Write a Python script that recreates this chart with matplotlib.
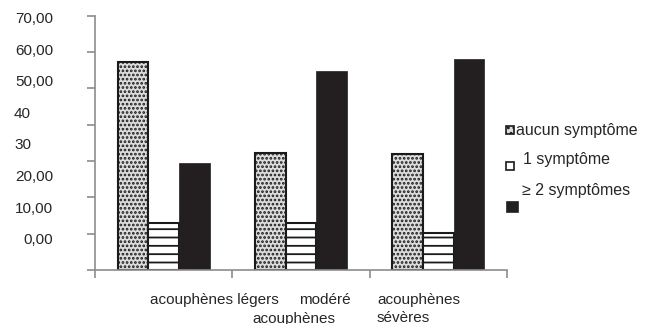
import numpy as np
import matplotlib
matplotlib.use('Agg')
import matplotlib.pyplot as plt
from matplotlib.patches import Rectangle

## tinnitus severity groups and share of patients (%) per symptom count
groups = ['acouphènes légers', 'modéré acouphènes', 'acouphènes sévères']
series = ['aucun symptôme', '1 symptôme', '≥ 2 symptômes']
aucun = [57.3, 32.1, 32.0]
un_symptome = [12.9, 13.0, 10.1]
deux_plus = [29.4, 54.8, 58.1]
ytick_labels = ['70,00', '60,00', '50,00', '40', '30', '20,00', '10,00', '0,00']

W, H = 653, 324
plt.rcParams['font.family'] = ['Liberation Sans', 'DejaVu Sans']
plt.rcParams['hatch.linewidth'] = 1.3
txt_color = '#262626'
axis_color = '#8c8c8c'

styles = [dict(facecolor='#dcdcdc', edgecolor='#1a1a1a', hatch='....', linewidth=1.5),
          dict(facecolor='white', edgecolor='#1a1a1a', hatch='--', linewidth=1.5),
          dict(facecolor='#231f20', edgecolor='#231f20', linewidth=0.5)]

def fpos(x, y):
    # pixel position (from top-left) -> figure fraction
    return x / W, 1 - y / H

fig = plt.figure(figsize=(W / 100, H / 100), dpi=100)
ax = fig.add_axes([95 / W, 1 - 270 / H, (507 - 95) / W, (270 - 15.5) / H])

x = np.arange(len(groups))
width = 0.224
for i, (vals, st) in enumerate(zip([aucun, un_symptome, deux_plus], styles)):
    ax.bar(x + (i - 1) * width, vals, width, **st)

ax.set_xlim(-0.5, 2.5)
ax.set_ylim(0, 70)
ax.set_yticks(np.arange(0, 80, 10))
ax.set_yticklabels([])
ax.set_xticks(np.arange(-0.5, 3.0, 1.0))
ax.set_xticklabels([])
for side in ['top', 'right']:
    ax.spines[side].set_visible(False)
for side in ['left', 'bottom']:
    ax.spines[side].set_color(axis_color)
    ax.spines[side].set_linewidth(1.2)
ax.tick_params(axis='both', color=axis_color, width=1.2, length=6, direction='out')

# y labels, spaced a little tighter than the ticks
for k, lab in enumerate(ytick_labels):
    yb = 23 + 31.6 * k
    if lab in ('40', '30'):
        fig.text(*fpos(14, yb), lab, ha='left', va='baseline', fontsize=11, color=txt_color)
    else:
        fig.text(*fpos(53, yb), lab, ha='right', va='baseline', fontsize=11, color=txt_color)

# category labels
fig.text(*fpos(150, 304), 'acouphènes légers', ha='left', va='baseline', fontsize=11, color=txt_color)
fig.text(*fpos(299, 304), 'modéré', ha='left', va='baseline', fontsize=11, color=txt_color)
fig.text(*fpos(252, 322.5), 'acouphènes', ha='left', va='baseline', fontsize=11, color=txt_color)
fig.text(*fpos(377, 304), 'acouphènes', ha='left', va='baseline', fontsize=11, color=txt_color)
fig.text(*fpos(377, 322), 'sévères', ha='left', va='baseline', fontsize=11, color=txt_color)

# legend: swatches and texts placed by hand
swatches = [(506, 126, 8, 8), (506, 162, 8, 8), (507, 201.5, 11, 10)]
label_pos = [(516, 135.5), (523, 164.3), (522.5, 195)]
swatch_hatch = ['...', '-', None]
for (sx, sy, sw, sh), (lx, ly), name, st, hh in zip(swatches, label_pos, series, styles, swatch_hatch):
    fx, fy = fpos(sx, sy + sh)
    st2 = dict(st)
    st2['linewidth'] = 1.2
    st2['hatch'] = hh
    fig.add_artist(Rectangle((fx, fy), sw / W, sh / H, transform=fig.transFigure, **st2))
    fig.text(*fpos(lx, ly), name, ha='left', va='baseline', fontsize=11.5, color=txt_color)

fig.savefig('out.png', dpi=100)
